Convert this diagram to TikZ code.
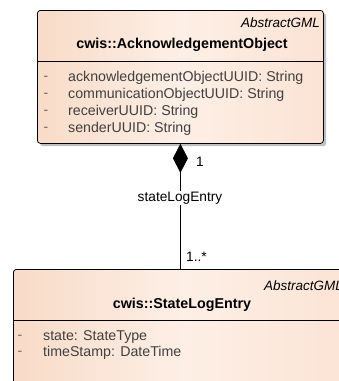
\documentclass[tikz,border=0pt]{standalone}
\usepackage{fontspec}
\setmainfont{Liberation Sans}
\usetikzlibrary{arrows.meta}
\definecolor{peachL}{HTML}{F8DBC7}
\definecolor{peachM}{HTML}{FDEFE6}
\definecolor{peachR}{HTML}{FCE3D4}
\tikzset{
  umlbox/.style={draw=black, line width=0.8pt, rounded corners=3pt, anchor=north west,
    left color=peachL, right color=peachR, middle color=peachM, inner sep=0pt},
  umlshadow/.style={fill=black!25, draw=none, rounded corners=3pt, anchor=north west, inner sep=0pt},
  stereo/.style={font=\fontsize{13.5}{15}\selectfont\itshape, anchor=east, inner sep=0pt},
  cname/.style={font=\fontsize{14.3}{16}\selectfont\bfseries, inner sep=0pt},
  attr/.style={font=\fontsize{14.2}{16}\selectfont, anchor=west, inner sep=0pt, text=black!75},
  dashmark/.style={font=\fontsize{14}{16}\selectfont, inner sep=0pt, text=black!60},
  lbl/.style={font=\fontsize{13.7}{15}\selectfont, inner sep=0pt},
}
\begin{document}
\begin{tikzpicture}[x=1pt, y=-1pt]
\useasboundingbox (0,0) rectangle (339,381);
\clip (0,0) rectangle (339,381);
\fill[white] (0,0) rectangle (339,381);

% upper class
\node[umlshadow, minimum width=286pt, minimum height=133pt] (ackshadow) at (40,13) {};
\node[umlbox, minimum width=286pt, minimum height=133pt] (ack) at (37,10) {};
\draw[line width=0.8pt] (37,61) -- (323,61);
\node[stereo] (ackst) at (320,23) {AbstractGML};
\node[cname] (ackname) at (182,45) {cwis::AcknowledgementObject};
\foreach \y/\t [count=\i] in {78/acknowledgementObjectUUID: String,
                              95/communicationObjectUUID: String,
                              112/receiverUUID: String,
                              129/senderUUID: String}{
  \node[dashmark] (ackd\i) at (46,\y) {-};
  \node[attr] (acka\i) at (68,\y) {\t};
}

% lower class
\node[umlbox, minimum width=340pt, minimum height=130pt] (sle) at (13,269) {};
\draw[line width=0.8pt] (13,320) -- (353,320);
\node[stereo] (slest) at (343,286) {AbstractGML};
\node[cname] (slename) at (182,305) {cwis::StateLogEntry};
\foreach \y/\t [count=\i] in {337/state: StateType, 353/timeStamp: DateTime}{
  \node[dashmark] (sled\i) at (20,\y) {-};
  \node[attr] (slea\i) at (43,\y) {\t};
}

% composition
\draw[line width=0.8pt, {Diamond[length=29pt, width=15pt]}-] (ack.south) -- (sle.north -| ack.south);
\node[lbl] (m1) at (200,162) {1};
\node[lbl, fill=white, inner sep=1pt] (role) at (180,198) {stateLogEntry};
\node[lbl, anchor=west] (m2) at (186,257) {1..*};
\end{tikzpicture}
\end{document}
